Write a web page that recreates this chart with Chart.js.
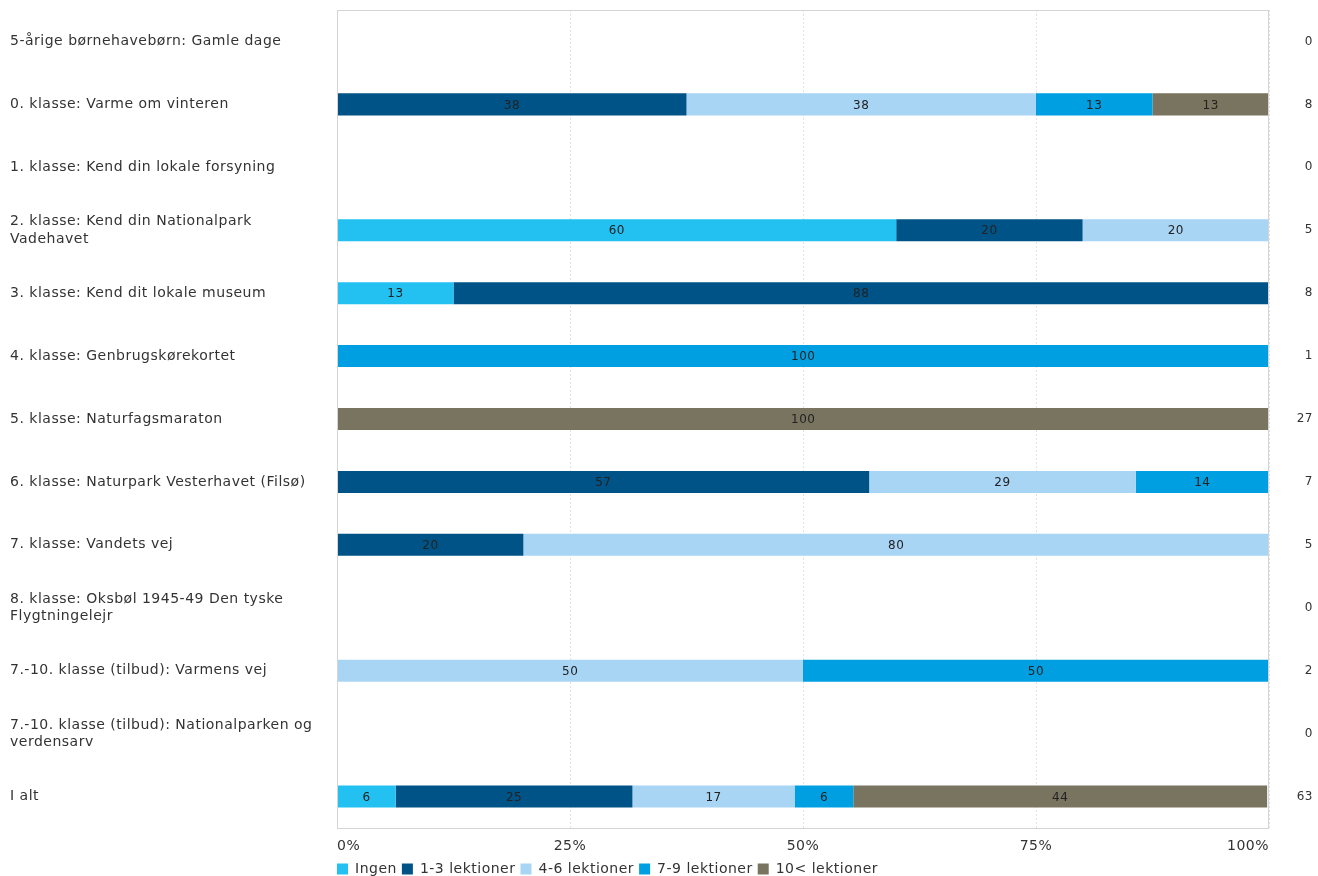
<!DOCTYPE html>
<html>
<head>
<meta charset="utf-8">
<script src="https://cdn.jsdelivr.net/npm/chart.js@4"></script>
<style>
  html, body { margin: 0; padding: 0; background: #fff; }
  #wrap { width: 1318px; height: 876px; }
</style>
</head>
<body>
<div id="wrap"><canvas id="graf"></canvas></div>
<script>
// kategorier (lange navne brydes i linjer)
const kategorier = [
  '5-årige børnehavebørn: Gamle dage',
  '0. klasse: Varme om vinteren',
  '1. klasse: Kend din lokale forsyning',
  ['2. klasse: Kend din Nationalpark', 'Vadehavet'],
  '3. klasse: Kend dit lokale museum',
  '4. klasse: Genbrugskørekortet',
  '5. klasse: Naturfagsmaraton',
  '6. klasse: Naturpark Vesterhavet (Filsø)',
  '7. klasse: Vandets vej',
  ['8. klasse: Oksbøl 1945-49 Den tyske', 'Flygtningelejr'],
  '7.-10. klasse (tilbud): Varmens vej',
  ['7.-10. klasse (tilbud): Nationalparken og', 'verdensarv'],
  'I alt'
];

// antal svar pr. række (højre side)
const antal = ['0', '8', '0', '5', '8', '1', '27', '7', '5', '0', '2', '0', '63'];

// procent pr. serie
const ingen      = [0, 0,    0, 60, 12.5, 0,   0,   0,    0,  0, 0,  0, 6.3];
const lekt1_3    = [0, 37.5, 0, 20, 87.5, 0,   0,   57.1, 20, 0, 0,  0, 25.4];
const lekt4_6    = [0, 37.5, 0, 20, 0,    0,   0,   28.6, 80, 0, 50, 0, 17.4];
const lekt7_9    = [0, 12.5, 0, 0,  0,    100, 0,   14.3, 0,  0, 50, 0, 6.3];
const lekt10     = [0, 12.5, 0, 0,  0,    0,   100, 0,    0,  0, 0,  0, 44.4];

const serieNavne = ['Ingen', '1-3 lektioner', '4-6 lektioner', '7-9 lektioner', '10< lektioner'];
const serier = [ingen, lekt1_3, lekt4_6, lekt7_9, lekt10];
const farver = ['#22c1f1', '#005386', '#a9d5f5', '#009fe1', '#79745f'];

const xTicks = [0, 25, 50, 75, 100];

const skrift = 'DejaVu Sans, Verdana, sans-serif';
Chart.defaults.font.family = skrift;
Chart.defaults.font.size = 12;
Chart.defaults.color = '#333333';

// lidt bredere tegnafstand som i originalen
const spacingPlugin = {
  id: 'spacing',
  beforeUpdate(chart) { chart.ctx.letterSpacing = '0.5px'; },
  beforeDraw(chart) { chart.ctx.letterSpacing = '0.5px'; }
};

// tal midt i hver bjælke
const tekstPlugin = {
  id: 'tekstIBar',
  afterDatasetsDraw(chart) {
    const ctx = chart.ctx;
    ctx.save();
    ctx.font = '12px ' + skrift;
    ctx.fillStyle = '#222222';
    ctx.textAlign = 'center';
    ctx.textBaseline = 'middle';
    chart.data.datasets.forEach((ds, i) => {
      const meta = chart.getDatasetMeta(i);
      meta.data.forEach((el, j) => {
        const v = ds.data[j];
        if (!v) return;
        ctx.fillText(Math.round(v), (el.x + el.base) / 2, el.y + 1);
      });
    });
    ctx.restore();
  }
};

// flyt legenden så den starter ved plotområdets venstre kant
const legendePlugin = {
  id: 'legendeVenstre',
  afterLayout(chart) {
    const lg = chart.legend;
    if (!lg) return;
    lg.left = chart.chartArea.left - lg.options.labels.padding;
    lg.adjustHitBoxes();
  }
};

// ramme rundt om plotområdet
const rammePlugin = {
  id: 'ramme',
  afterDatasetsDraw(chart) {
    const a = chart.chartArea;
    const ctx = chart.ctx;
    ctx.save();
    ctx.strokeStyle = '#d4d4d4';
    ctx.lineWidth = 1;
    ctx.strokeRect(a.left + 0.5, a.top + 0.5, a.right - a.left - 1, a.bottom - a.top);
    ctx.restore();
  }
};

new Chart(document.getElementById('graf'), {
  type: 'bar',
  data: {
    labels: kategorier,
    datasets: serier.map((d, i) => ({
      label: serieNavne[i],
      data: d,
      backgroundColor: farver[i],
      borderWidth: 0,
      barPercentage: 0.35,
      categoryPercentage: 1
    }))
  },
  options: {
    indexAxis: 'y',
    responsive: true,
    maintainAspectRatio: false,
    animation: false,
    layout: { padding: { left: 10, top: 10, right: 5, bottom: 0 } },
    plugins: {
      legend: {
        position: 'bottom',
        align: 'start',
        maxHeight: 19,
        labels: {
          boxWidth: 11,
          boxHeight: 11,
          padding: 5,
          color: '#333333',
          font: { size: 14 }
        }
      },
      tooltip: { enabled: false }
    },
    scales: {
      x: {
        stacked: true,
        min: 0,
        max: 100,
        afterBuildTicks: s => { s.ticks = xTicks.map(v => ({ value: v })); },
        afterFit: s => { s.height = 29; },
        ticks: {
          align: 'inner',
          padding: 10,
          callback: v => v + '%',
          color: '#333333',
          font: { size: 14 }
        },
        grid: {
          color: '#e2e2e2',
          drawTicks: false
        },
        border: { display: false, dash: [2, 2] }
      },
      y: {
        stacked: true,
        ticks: {
          crossAlign: 'far',
          color: '#333333',
          padding: 0,
          font: { size: 14, lineHeight: 1.25 }
        },
        grid: { display: false, drawTicks: false },
        border: { display: false },
        afterFit: s => { s.width = 327; }
      },
      y2: {
        type: 'category',
        position: 'right',
        labels: antal,
        offset: true,
        ticks: {
          crossAlign: 'far',
          color: '#333333',
          padding: 0,
          font: { size: 12 }
        },
        grid: { display: false, drawTicks: false },
        border: { display: false },
        afterFit: s => { s.width = 44; }
      }
    }
  },
  plugins: [spacingPlugin, tekstPlugin, legendePlugin, rammePlugin]
});
</script>
</body>
</html>
